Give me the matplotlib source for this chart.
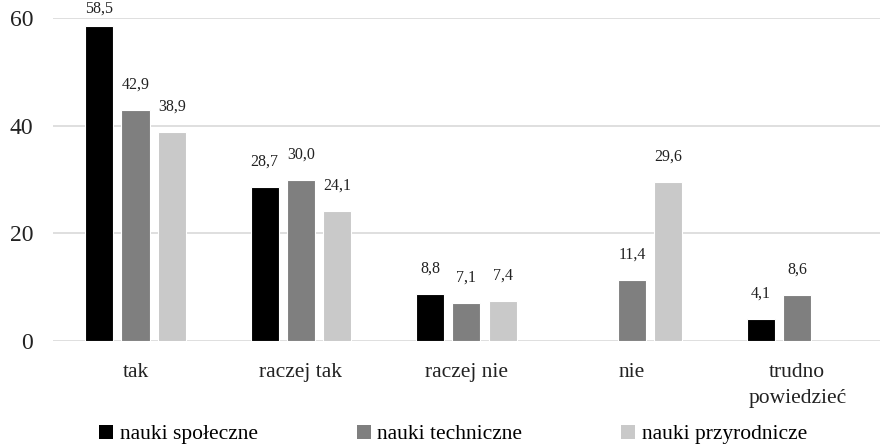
import numpy as np
import matplotlib
matplotlib.use("Agg")
import matplotlib.pyplot as plt
from matplotlib.patches import Patch

plt.rcParams['font.family'] = ['Liberation Serif', 'DejaVu Serif']

categories = ["tak", "raczej tak", "raczej nie", "nie", "trudno\npowiedzieć"]
series_names = ["nauki społeczne", "nauki techniczne", "nauki przyrodnicze"]
spoleczne = [58.5, 28.7, 8.8, np.nan, 4.1]
techniczne = [42.9, 30.0, 7.1, 11.4, 8.6]
przyrodnicze = [38.9, 24.1, 7.4, 29.6, np.nan]
colors = ["#000000", "#7f7f7f", "#c9c9c9"]
yticks = [0, 20, 40, 60]

fig = plt.figure(figsize=(8.8, 4.46), dpi=100)
ax = fig.add_axes([0.06, 0.235, 0.94, 0.725])

x = np.arange(len(categories))
width = 0.17
step = 0.22
for i, (vals, col) in enumerate(zip([spoleczne, techniczne, przyrodnicze], colors)):
    pos = x + (i - 1) * step
    v = np.array(vals, dtype=float)
    ax.bar(pos, np.nan_to_num(v), width, color=col, edgecolor="white", linewidth=0.8, zorder=3)
    for p, val in zip(pos, v):
        if not np.isnan(val):
            ax.text(p, min(val + 3.2, 60.2), f"{val:.1f}".replace(".", ","), ha="center",
                    va="bottom", fontsize=11.5, color="#222222", clip_on=False)

ax.set_xlim(-0.5, len(categories) - 0.5)
ax.set_ylim(0, 60)
ax.set_yticks(yticks)
ax.set_yticklabels([str(t) for t in yticks], fontsize=17)
ax.set_xticks(x)
ax.set_xticklabels(categories, fontsize=15.5, linespacing=1.45)
ax.tick_params(axis="both", length=0, colors="#222222")
ax.tick_params(axis="x", pad=16)
ax.tick_params(axis="y", pad=14)
ax.grid(axis="y", color="#d9d9d9", linewidth=1.2, zorder=0)
for s in ax.spines.values():
    s.set_visible(False)

handles = [Patch(facecolor=c, edgecolor="none") for c in colors]
fig.legend(handles, series_names, loc="lower center", bbox_to_anchor=(0.515, -0.04), ncol=3,
           frameon=False, fontsize=15.5, handlelength=0.65, handleheight=0.65,
           handletextpad=0.3, columnspacing=4.6)

fig.savefig("out.png", dpi=100)
